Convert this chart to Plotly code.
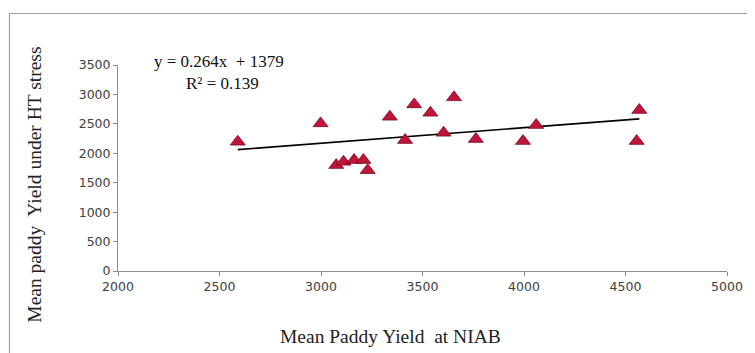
import plotly.graph_objects as go

# Data
niab_yield = [2590, 2998, 3075, 3111, 3163, 3209, 3230, 3339, 3414, 3459,
              3539, 3604, 3655, 3763, 3995, 4060, 4568, 4555]
ht_yield = [2195, 2508, 1799, 1855, 1884, 1884, 1713, 2620, 2224, 2831,
            2688, 2348, 2950, 2241, 2207, 2479, 2734, 2207]
slope = 0.264
intercept = 1379
x_ticks = [2000, 2500, 3000, 3500, 4000, 4500, 5000]
y_ticks = [0, 500, 1000, 1500, 2000, 2500, 3000, 3500]

x_line = [min(niab_yield), max(niab_yield)]
y_line = [slope * v + intercept for v in x_line]

fig = go.Figure()
fig.add_trace(go.Scatter(x=x_line, y=y_line, mode="lines",
                         line=dict(color="black", width=1.6),
                         hoverinfo="skip", showlegend=False))
fig.add_trace(go.Scatter(x=niab_yield, y=ht_yield, mode="markers",
                         marker=dict(symbol="triangle-up", size=13, color="#C0153A",
                                     line=dict(color="#7A0A20", width=0.8)),
                         showlegend=False))

axis_common = dict(showgrid=False, zeroline=False, showline=True,
                   linecolor="#8C8C8C", linewidth=1, ticks="outside",
                   ticklen=4, tickcolor="#8C8C8C",
                   tickfont=dict(family="DejaVu Sans", size=12.5, color="#404040"))

# page offset of 8 px: plot area spans x 118..732, y 65..271 on screen
fig.update_layout(
    width=747, height=345,
    margin=dict(l=110, r=23, t=57, b=82),
    paper_bgcolor="white", plot_bgcolor="white",
    xaxis=dict(range=[2000, 5000], tickvals=x_ticks, **axis_common),
    yaxis=dict(range=[0, 3500], tickvals=y_ticks, **axis_common),
    font=dict(family="Liberation Serif"),
)

W, H = 614.0, 206.0
def xp(px):
    return (px - 118) / W
def yp(py):
    return (271 - py) / H

fig.add_annotation(xref="paper", yref="paper", x=xp(393), y=yp(336),
                   text="Mean Paddy Yield  at NIAB", showarrow=False,
                   font=dict(family="Liberation Serif", size=19.5, color="#222222"),
                   xanchor="center", yanchor="middle")
fig.add_annotation(xref="paper", yref="paper", x=xp(33), y=yp(185),
                   text="Mean paddy  Yield under HT stress", showarrow=False, textangle=-90,
                   font=dict(family="Liberation Serif", size=19.5, color="#222222"),
                   xanchor="center", yanchor="middle")
fig.add_annotation(xref="paper", yref="paper", x=xp(220), y=yp(61),
                   text="y = 0.264x  + 1379", showarrow=False,
                   font=dict(family="Liberation Serif", size=17, color="#111111"),
                   xanchor="center", yanchor="middle")
fig.add_annotation(xref="paper", yref="paper", x=xp(223), y=yp(83),
                   text="R² = 0.139", showarrow=False,
                   font=dict(family="Liberation Serif", size=17, color="#111111"),
                   xanchor="center", yanchor="middle")

# chart border
fig.add_shape(type="rect", xref="paper", yref="paper",
              x0=xp(8.6), x1=xp(770),
              y0=yp(370), y1=yp(13.5),
              line=dict(color="#A0A0A0", width=1.2))

fig.write_html("out.html")
